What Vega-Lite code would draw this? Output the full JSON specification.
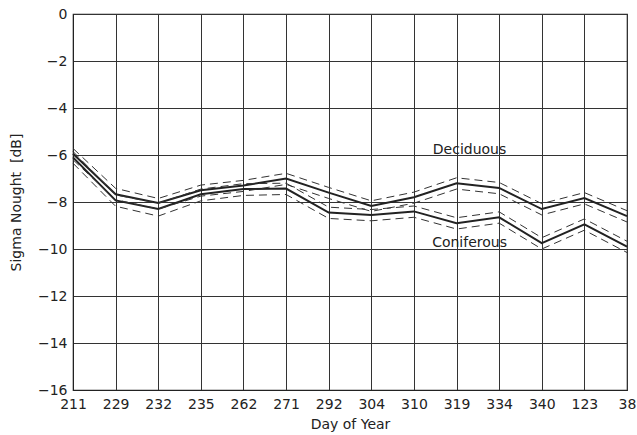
{
  "$schema": "https://vega.github.io/schema/vega-lite/v6.json",
  "autosize": {"type": "none"},
  "padding": {"left": 73, "top": 14, "right": 10, "bottom": 45},
  "width": 554,
  "height": 376,
  "background": "white",
  "config": {
    "view": {"stroke": "#222", "strokeWidth": 1.2},
    "font": "DejaVu Sans",
    "axis": {
      "labelFont": "DejaVu Sans",
      "titleFont": "DejaVu Sans",
      "labelFontSize": 14,
      "titleFontSize": 14,
      "labelColor": "#222",
      "titleColor": "#222",
      "titleFontWeight": "normal",
      "gridColor": "#333",
      "gridOpacity": 1,
      "gridWidth": 1,
      "domainColor": "#222",
      "ticks": false
    }
  },
  "data": {
    "values": [
      {"day": "211", "cls": "Deciduous", "mean": -5.95, "lo": -6.2, "hi": -5.72},
      {"day": "229", "cls": "Deciduous", "mean": -7.67, "lo": -7.9, "hi": -7.42},
      {"day": "232", "cls": "Deciduous", "mean": -8.04, "lo": -8.3, "hi": -7.85},
      {"day": "235", "cls": "Deciduous", "mean": -7.5, "lo": -7.75, "hi": -7.28},
      {"day": "262", "cls": "Deciduous", "mean": -7.3, "lo": -7.55, "hi": -7.08},
      {"day": "271", "cls": "Deciduous", "mean": -7.0, "lo": -7.25, "hi": -6.78},
      {"day": "292", "cls": "Deciduous", "mean": -7.6, "lo": -7.85, "hi": -7.38},
      {"day": "304", "cls": "Deciduous", "mean": -8.17, "lo": -8.4, "hi": -7.95},
      {"day": "310", "cls": "Deciduous", "mean": -7.8, "lo": -8.05, "hi": -7.58},
      {"day": "319", "cls": "Deciduous", "mean": -7.2, "lo": -7.45, "hi": -6.97},
      {"day": "334", "cls": "Deciduous", "mean": -7.4, "lo": -7.65, "hi": -7.17},
      {"day": "340", "cls": "Deciduous", "mean": -8.3, "lo": -8.55, "hi": -8.07},
      {"day": "123", "cls": "Deciduous", "mean": -7.83, "lo": -8.08, "hi": -7.6},
      {"day": "38", "cls": "Deciduous", "mean": -8.6, "lo": -8.85, "hi": -8.37},
      {"day": "211", "cls": "Coniferous", "mean": -6.1, "lo": -6.35, "hi": -5.85},
      {"day": "229", "cls": "Coniferous", "mean": -7.93, "lo": -8.18, "hi": -7.7},
      {"day": "232", "cls": "Coniferous", "mean": -8.3, "lo": -8.6, "hi": -8.05},
      {"day": "235", "cls": "Coniferous", "mean": -7.67, "lo": -7.95, "hi": -7.45},
      {"day": "262", "cls": "Coniferous", "mean": -7.45, "lo": -7.72, "hi": -7.22},
      {"day": "271", "cls": "Coniferous", "mean": -7.43, "lo": -7.68, "hi": -7.2},
      {"day": "292", "cls": "Coniferous", "mean": -8.45, "lo": -8.7, "hi": -8.22},
      {"day": "304", "cls": "Coniferous", "mean": -8.55, "lo": -8.8, "hi": -8.32},
      {"day": "310", "cls": "Coniferous", "mean": -8.4, "lo": -8.65, "hi": -8.17},
      {"day": "319", "cls": "Coniferous", "mean": -8.9, "lo": -9.15, "hi": -8.67},
      {"day": "334", "cls": "Coniferous", "mean": -8.65, "lo": -8.9, "hi": -8.42},
      {"day": "340", "cls": "Coniferous", "mean": -9.75, "lo": -10.0, "hi": -9.52},
      {"day": "123", "cls": "Coniferous", "mean": -8.95, "lo": -9.2, "hi": -8.72},
      {"day": "38", "cls": "Coniferous", "mean": -9.9, "lo": -10.15, "hi": -9.67}
    ]
  },
  "encoding": {
    "x": {
      "field": "day",
      "type": "ordinal",
      "sort": ["211", "229", "232", "235", "262", "271", "292", "304", "310", "319", "334", "340", "123", "38"],
      "scale": {"type": "point", "padding": 0},
      "axis": {"title": "Day of Year", "labelAngle": 0, "grid": true, "labelPadding": 7, "titlePadding": 6}
    }
  },
  "layer": [
    {
      "mark": {"type": "line", "color": "#222", "strokeWidth": 2},
      "encoding": {
        "y": {
          "field": "mean",
          "type": "quantitative",
          "scale": {"domain": [-16, 0], "nice": false},
          "axis": {"title": "Sigma Nought \u00a0[dB]", "values": [-16, -14, -12, -10, -8, -6, -4, -2, 0], "labelPadding": 6, "titlePadding": 14, "grid": true}
        },
        "detail": {"field": "cls"}
      }
    },
    {
      "mark": {"type": "line", "color": "#333", "strokeWidth": 1, "strokeDash": [8, 5]},
      "encoding": {
        "y": {"field": "lo", "type": "quantitative"},
        "detail": {"field": "cls"}
      }
    },
    {
      "mark": {"type": "line", "color": "#333", "strokeWidth": 1, "strokeDash": [8, 5]},
      "encoding": {
        "y": {"field": "hi", "type": "quantitative"},
        "detail": {"field": "cls"}
      }
    },
    {
      "data": {
        "values": [
          {"day": "319", "label": "Deciduous", "v": -5.8},
          {"day": "319", "label": "Coniferous", "v": -9.75}
        ]
      },
      "mark": {"type": "text", "fontSize": 14, "color": "#222", "dx": 13, "font": "DejaVu Sans"},
      "encoding": {
        "y": {"field": "v", "type": "quantitative"},
        "text": {"field": "label"}
      }
    }
  ]
}
